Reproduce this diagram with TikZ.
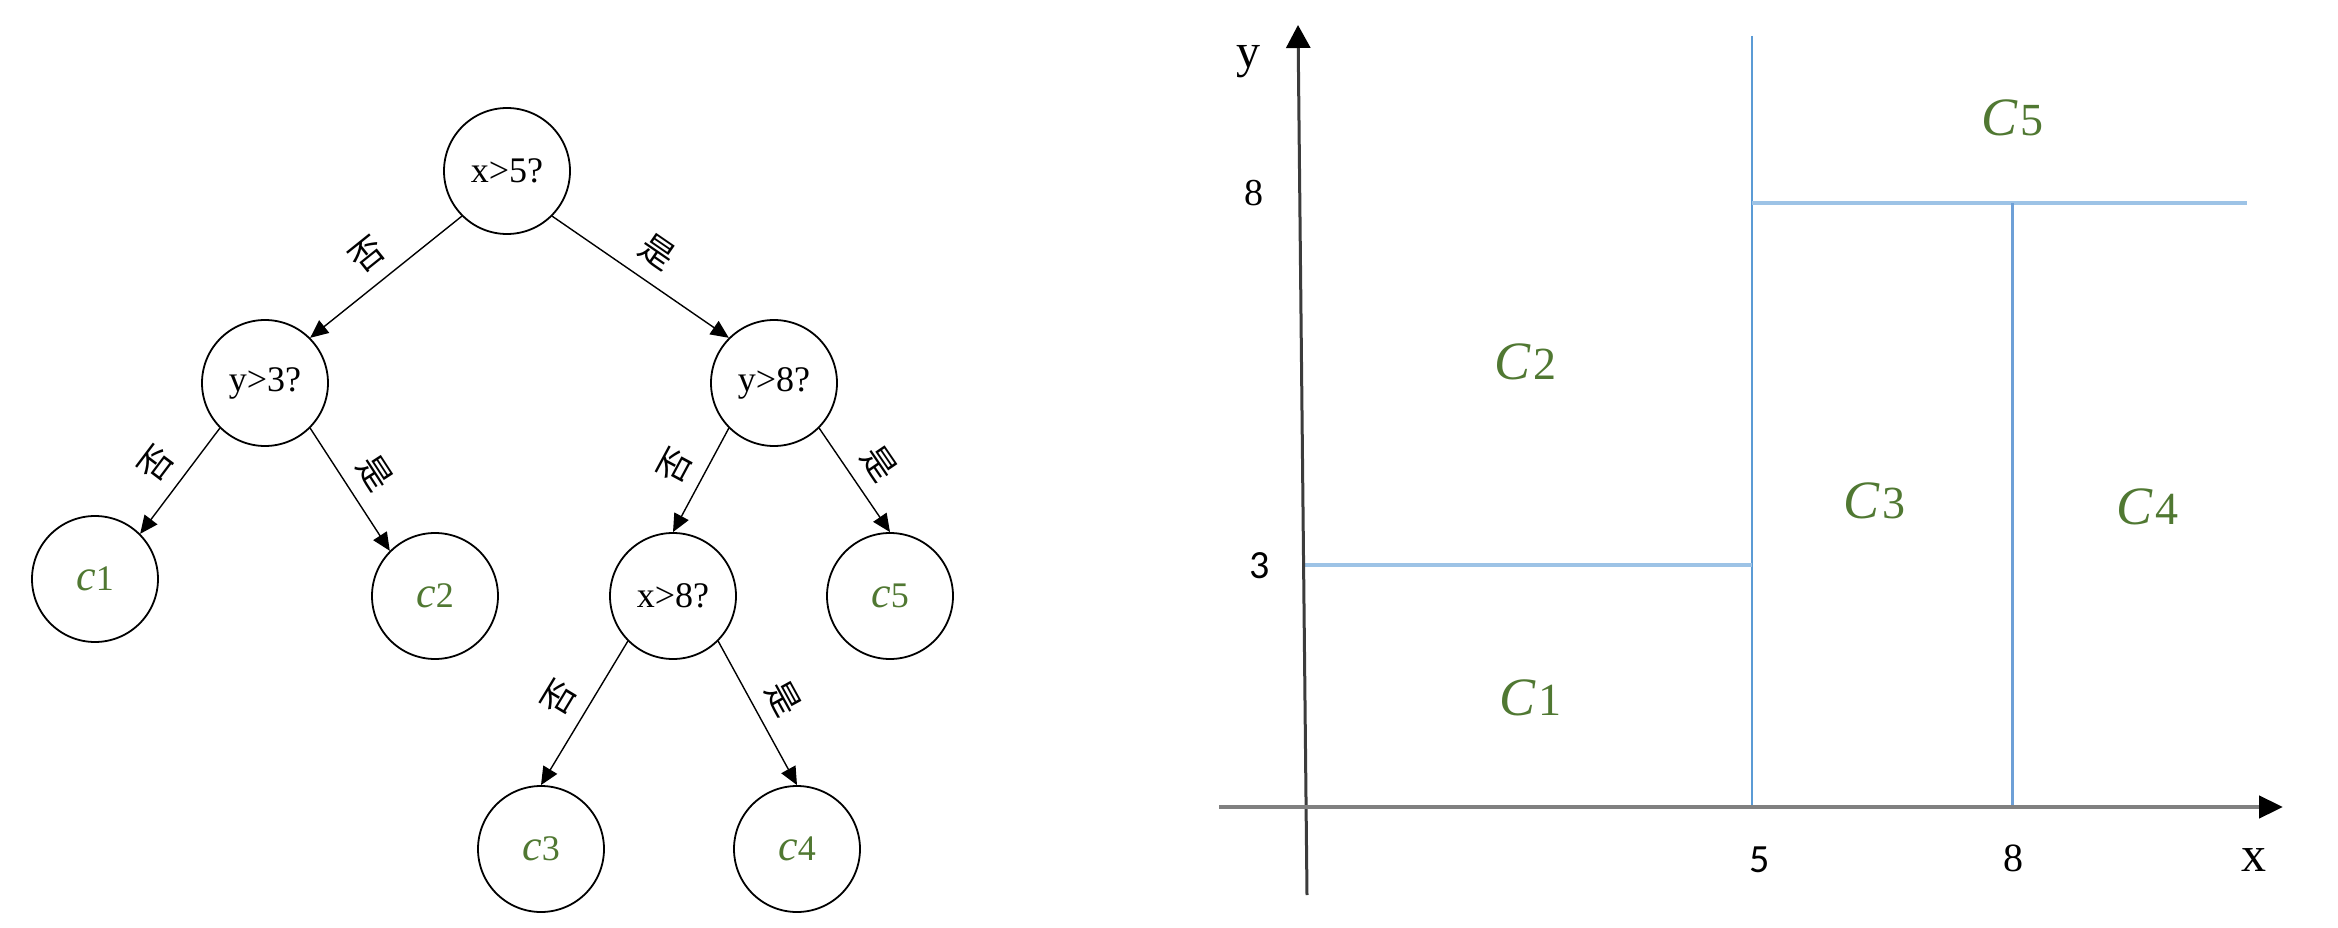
\documentclass[tikz,border=0pt]{standalone}
\usepackage{fontspec}
\setmainfont{Liberation Serif}
\newfontfamily\cjkfont{Noto Sans CJK SC}
\newfontfamily\calfont{Carlito}
\usetikzlibrary{arrows.meta}
\definecolor{leafgreen}{RGB}{80,120,50}
\definecolor{blueA}{RGB}{91,155,213}
\definecolor{blueB}{RGB}{157,195,230}
\definecolor{blueC}{RGB}{110,160,215}
\definecolor{axisdark}{RGB}{60,60,60}
\definecolor{axisgray}{RGB}{128,128,128}
\newcommand\leaflab[1]{\textcolor{leafgreen}{{\fontsize{44}{44}\selectfont\itshape c}#1}}
\newcommand\regionlab[1]{\textcolor{leafgreen}{{\fontsize{54}{54}\selectfont\itshape C}\kern3pt{\fontsize{46}{46}\selectfont #1}}}
\begin{document}
\begin{tikzpicture}[x=1pt,y=-1pt,
  tnode/.style={circle, draw, line width=1.8pt, minimum size=126pt, inner sep=0pt, font=\fontsize{36}{40}\selectfont},
  edge/.style={line width=1.4pt, -{Triangle[length=18pt,width=16pt]}},
  elab/.style={sloped, above=14pt, inner sep=0pt, font=\cjkfont\fontsize{34}{36}\selectfont},
  lab/.style={inner sep=0pt},
]
\useasboundingbox[fill=white] (0,0) rectangle (2338,928);

% ---------- decision tree ----------
\node[tnode] (root) at (507,171) {x>5?};
\node[tnode] (y3) at (265,383) {y>3?};
\node[tnode] (y8) at (774,383) {y>8?};
\node[tnode] (c1) at (95,579) {\leaflab{1}};
\node[tnode] (c2) at (435,596) {\leaflab{2}};
\node[tnode] (x8) at (673,596) {x>8?};
\node[tnode] (c5) at (890,596) {\leaflab{5}};
\node[tnode] (c3) at (541,849) {\leaflab{3}};
\node[tnode] (c4) at (797,849) {\leaflab{4}};

\draw[edge] (root.south west) -- node[elab]{否} (y3.north east);
\draw[edge] (root.south east) -- node[elab]{是} (y8.north west);
\draw[edge] (y3.south west) -- node[elab]{否} (c1.north east);
\draw[edge] (y3.south east) -- node[elab]{是} (c2.north west);
\draw[edge] (y8.south west) -- node[elab]{否} (x8.north);
\draw[edge] (y8.south east) -- node[elab]{是} (c5.north);
\draw[edge] (x8.south west) -- node[elab]{否} (c3.north);
\draw[edge] (x8.south east) -- node[elab]{是} (c4.north);

% ---------- partition plot ----------
\draw[blueA, line width=2.5pt] (1752,36) -- (1752,807);
\draw[blueB, line width=4.5pt] (1752,203) -- (2247,203);
\draw[blueC, line width=3pt] (2012,203) -- (2012,807);
\draw[blueB, line width=4pt] (1302,565) -- (1752,565);

\coordinate (ybot) at (1307,895);
\coordinate (ytop) at (1298,25);
\coordinate (xleft) at (1219,807);
\coordinate (xright) at (2283,807);
\draw[axisdark, line width=3pt, -{Triangle[length=23pt,width=24pt,color=black]}] (ybot) -- (ytop);
\draw[axisgray, line width=4.5pt, -{Triangle[length=24pt,width=22pt,color=black]}] (xleft) -- (xright);

\node[lab, font=\fontsize{48}{50}\selectfont] (ylab) at (1248,62) {y};
\node[lab, font=\fontsize{50}{52}\selectfont] (xlab) at (2254,860) {x};
\node[lab, font=\fontsize{38}{40}\selectfont] (y8lab) at (1254,193) {8};
\node[lab, font=\calfont\fontsize{40}{42}\selectfont] (y3lab) at (1260,566) {3};
\node[lab, font=\calfont\fontsize{40}{42}\selectfont] (x5lab) at (1760,860) {5};
\node[lab, font=\fontsize{40}{42}\selectfont] (x8lab) at (2013,858) {8};

\node[lab] (C1) at (1530,698) {\regionlab{1}};
\node[lab] (C2) at (1525,362) {\regionlab{2}};
\node[lab] (C3) at (1874,501) {\regionlab{3}};
\node[lab] (C4) at (2147,507) {\regionlab{4}};
\node[lab] (C5) at (2012,118) {\regionlab{5}};
\end{tikzpicture}
\end{document}
